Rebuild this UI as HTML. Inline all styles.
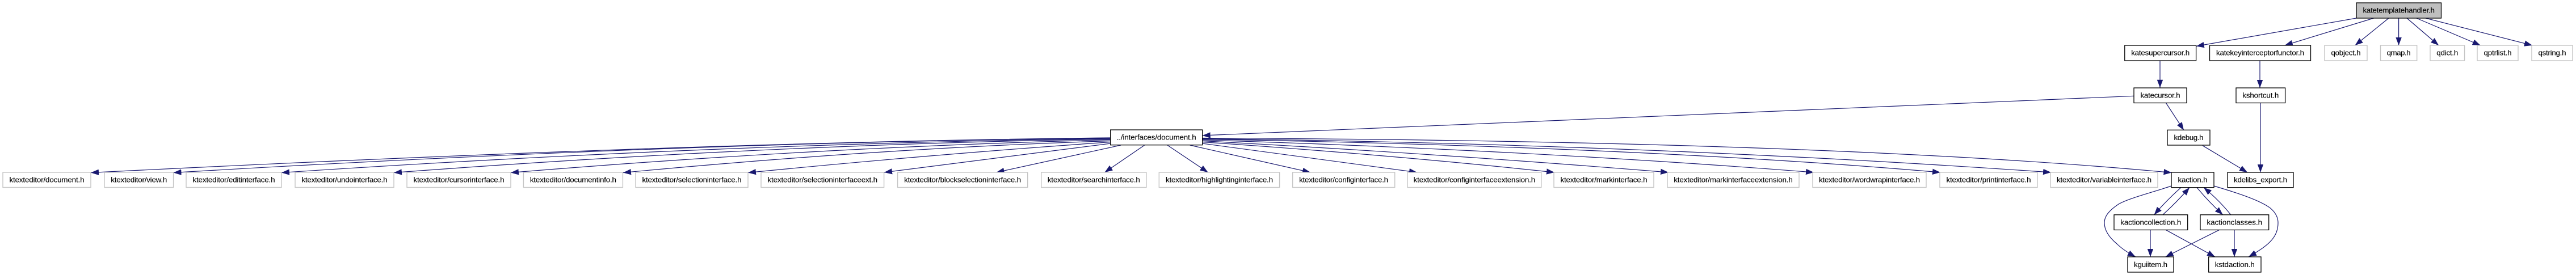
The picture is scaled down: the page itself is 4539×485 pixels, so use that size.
<!DOCTYPE html>
<html><head><meta charset="utf-8"><title>katetemplatehandler.h include graph</title>
<style>
html,body{margin:0;padding:0;background:#fff;width:4539px;height:485px;overflow:hidden}
svg{display:block}
text{font-family:"Liberation Sans",sans-serif;font-size:13.33px;fill:#000;text-anchor:middle;stroke:#000;stroke-width:.12}
.b rect{fill:#fff;stroke:#000;stroke-width:1.3}
.g rect{fill:#fff;stroke:#c4c4c4;stroke-width:1.4}
.e path{fill:none;stroke:#191970;stroke-width:1.2;marker-end:url(#a)}
</style></head><body>
<svg width="4539" height="485" viewBox="0 0 4539 485" xmlns="http://www.w3.org/2000/svg">
<defs><marker id="a" markerUnits="userSpaceOnUse" markerWidth="16" markerHeight="12" refX="14" refY="5.2" orient="auto"><path d="M0,0 L14,5.2 L0,10.4 Z" fill="#191970" stroke="none"/></marker></defs>
<rect width="4539" height="485" fill="#fff"/>
<g class="e">
<path d="M4152,32 L3869.8,81.5"/>
<path d="M4182.6,32 L4025.8,80"/>
<path d="M4209,32 L4149.7,80"/>
<path d="M4226.6,32 L4226.6,80"/>
<path d="M4241,32 L4297,80"/>
<path d="M4257.8,32 L4370.7,80"/>
<path d="M4274,32 L4462,80"/>
<path d="M3806,107 L3806,154.7"/>
<path d="M3982,107 L3982,155"/>
<path d="M3760,169.3 L2118.7,239"/>
<path d="M3816.5,181.5 L3848,229.7"/>
<path d="M3983,181.5 L3983,304"/>
<path d="M3881,256.7 L3960,304"/>
<path d="M1957,243 Q1230,250.5 160,304.5"/>
<path d="M1957,243.5 Q1200,251 305.5,304.5"/>
<path d="M1957,244.2 Q1250,254 496,304.5"/>
<path d="M1957,245.2 Q1350,255 694,304.5"/>
<path d="M1957,246.5 Q1450,259 900,304.5"/>
<path d="M1957,248.5 Q1550,261.5 1098,304.5"/>
<path d="M1957,250.5 Q1650,271.7 1318,304.5"/>
<path d="M1957,253 L1558,304"/>
<path d="M1975,256 L1755.6,304"/>
<path d="M2016.7,256 L1946.5,304"/>
<path d="M2057,256 L2128.5,304"/>
<path d="M2096.7,256 L2309,304"/>
<path d="M2118.7,253 L2497,304"/>
<path d="M2118.7,250.5 Q2450,273 2739,304"/>
<path d="M2118.7,248.5 Q2550,272 2940,304"/>
<path d="M2118.7,246.8 Q2700,265 3196,304"/>
<path d="M2118.7,245.5 Q2900,259 3419,304"/>
<path d="M2118.7,244.5 Q2900,254 3614,304"/>
<path d="M2118.7,243.5 C2700,246 3350,260 3826.5,304.5"/>
<path d="M3826,328 C3790,340 3750,350 3733,360 C3715,372 3708,382 3708,393 C3708,408 3718,420 3730,430 C3738,438 3750,446 3763,453"/>
<path d="M3843,330.7 Q3818,353 3795.7,378.7"/>
<path d="M3811,378.7 Q3836,356 3858,330.7"/>
<path d="M3871,330.7 Q3892,356 3916.7,378.7"/>
<path d="M3930.7,378.7 Q3910,353 3883,330.7"/>
<path d="M3901,328 C3935,338 3980,352 4000,366.7 C4010,375 4014,384 4014,393 C4014,405 4010,415 4003,423 C3995,433 3978,444 3962,453"/>
<path d="M3789,405.5 L3789,453"/>
<path d="M3816.7,405.7 L3903,453"/>
<path d="M3910,405.7 L3815.7,453"/>
<path d="M3937,405.7 L3937,453"/>
</g>
<g class="b">
<rect x="4152" y="5" width="149.5" height="27" style="fill:#bfbfbf"/><text x="4226.7" y="22.7" textLength="126.5">katetemplatehandler.h</text>
<rect x="3743.8" y="80" width="125.8" height="27"/><text x="3806.7" y="97.7" textLength="103">katesupercursor.h</text>
<rect x="3893.5" y="80" width="178" height="27"/><text x="3982.5" y="97.7" textLength="155">katekeyinterceptorfunctor.h</text>
<rect x="3760" y="155" width="93" height="26.5"/><text x="3806.5" y="172.5" textLength="70">katecursor.h</text>
<rect x="3940" y="155" width="86.6" height="26.5"/><text x="3983.3" y="172.5" textLength="64">kshortcut.h</text>
<rect x="1956.7" y="229" width="162" height="26.7"/><text x="2037.7" y="246.7" textLength="140">../interfaces/document.h</text>
<rect x="3819" y="229.3" width="75" height="26.7"/><text x="3856.5" y="247" textLength="52">kdebug.h</text>
<rect x="3826" y="304" width="75" height="26.7"/><text x="3863.5" y="321.7" textLength="52">kaction.h</text>
<rect x="3925" y="304" width="116" height="26.7"/><text x="3983" y="321.7" textLength="94">kdelibs_export.h</text>
<rect x="3725" y="378.8" width="129.7" height="26.7"/><text x="3789.8" y="396.4" textLength="107">kactioncollection.h</text>
<rect x="3877" y="378.8" width="120.7" height="26.7"/><text x="3937.3" y="396.4" textLength="97.5">kactionclasses.h</text>
<rect x="3749" y="453" width="81" height="27"/><text x="3789.5" y="470.8" textLength="59">kguiitem.h</text>
<rect x="3891.7" y="453" width="92.3" height="27"/><text x="3937.8" y="470.8" textLength="70">kstdaction.h</text>
</g>
<g class="g">
<rect x="4096" y="80" width="75" height="27"/><text x="4133.5" y="97.7" textLength="52">qobject.h</text>
<rect x="4194.5" y="80" width="64.2" height="27"/><text x="4226.6" y="97.7" textLength="42">qmap.h</text>
<rect x="4282" y="80" width="60.6" height="27"/><text x="4312.3" y="97.7" textLength="38">qdict.h</text>
<rect x="4365" y="80" width="72" height="27"/><text x="4401" y="97.7" textLength="49">qptrlist.h</text>
<rect x="4461" y="80" width="72" height="27"/><text x="4497" y="97.7" textLength="49">qstring.h</text>
<rect x="5" y="304" width="155" height="26.5"/><text x="82.5" y="321.6" textLength="132">ktexteditor/document.h</text>
<rect x="184" y="304" width="121.6" height="26.5"/><text x="244.8" y="321.6" textLength="99">ktexteditor/view.h</text>
<rect x="328" y="304" width="168" height="26.5"/><text x="412" y="321.6" textLength="145">ktexteditor/editinterface.h</text>
<rect x="520" y="304" width="174" height="26.5"/><text x="607" y="321.6" textLength="151">ktexteditor/undointerface.h</text>
<rect x="717" y="304" width="183" height="26.5"/><text x="808.5" y="321.6" textLength="160">ktexteditor/cursorinterface.h</text>
<rect x="922.4" y="304" width="175" height="26.5"/><text x="1009.9" y="321.6" textLength="152">ktexteditor/documentinfo.h</text>
<rect x="1120" y="304" width="198" height="26.5"/><text x="1219" y="321.6" textLength="175">ktexteditor/selectioninterface.h</text>
<rect x="1341" y="304" width="216.6" height="26.5"/><text x="1449.3" y="321.6" textLength="193.6">ktexteditor/selectioninterfaceext.h</text>
<rect x="1581.6" y="304" width="229.1" height="26.5"/><text x="1696.1" y="321.6" textLength="206">ktexteditor/blockselectioninterface.h</text>
<rect x="1834.7" y="304" width="185.2" height="26.5"/><text x="1927.3" y="321.6" textLength="163">ktexteditor/searchinterface.h</text>
<rect x="2042.3" y="304" width="212.3" height="26.5"/><text x="2148.5" y="321.6" textLength="189">ktexteditor/highlightinginterface.h</text>
<rect x="2277.6" y="304" width="180.1" height="26.5"/><text x="2367.6" y="321.6" textLength="157">ktexteditor/configinterface.h</text>
<rect x="2480" y="304" width="235.8" height="26.5"/><text x="2597.9" y="321.6" textLength="214.5">ktexteditor/configinterfaceextension.h</text>
<rect x="2738" y="304" width="176" height="26.5"/><text x="2826" y="321.6" textLength="153">ktexteditor/markinterface.h</text>
<rect x="2938" y="304" width="232" height="26.5"/><text x="3054" y="321.6" textLength="209.5">ktexteditor/markinterfaceextension.h</text>
<rect x="3194" y="304" width="200" height="26.5"/><text x="3294" y="321.6" textLength="178">ktexteditor/wordwrapinterface.h</text>
<rect x="3418" y="304" width="172" height="26.5"/><text x="3504" y="321.6" textLength="149">ktexteditor/printinterface.h</text>
<rect x="3613" y="304" width="189" height="26.5"/><text x="3707.5" y="321.6" textLength="167">ktexteditor/variableinterface.h</text>
</g>
</svg>
</body></html>
